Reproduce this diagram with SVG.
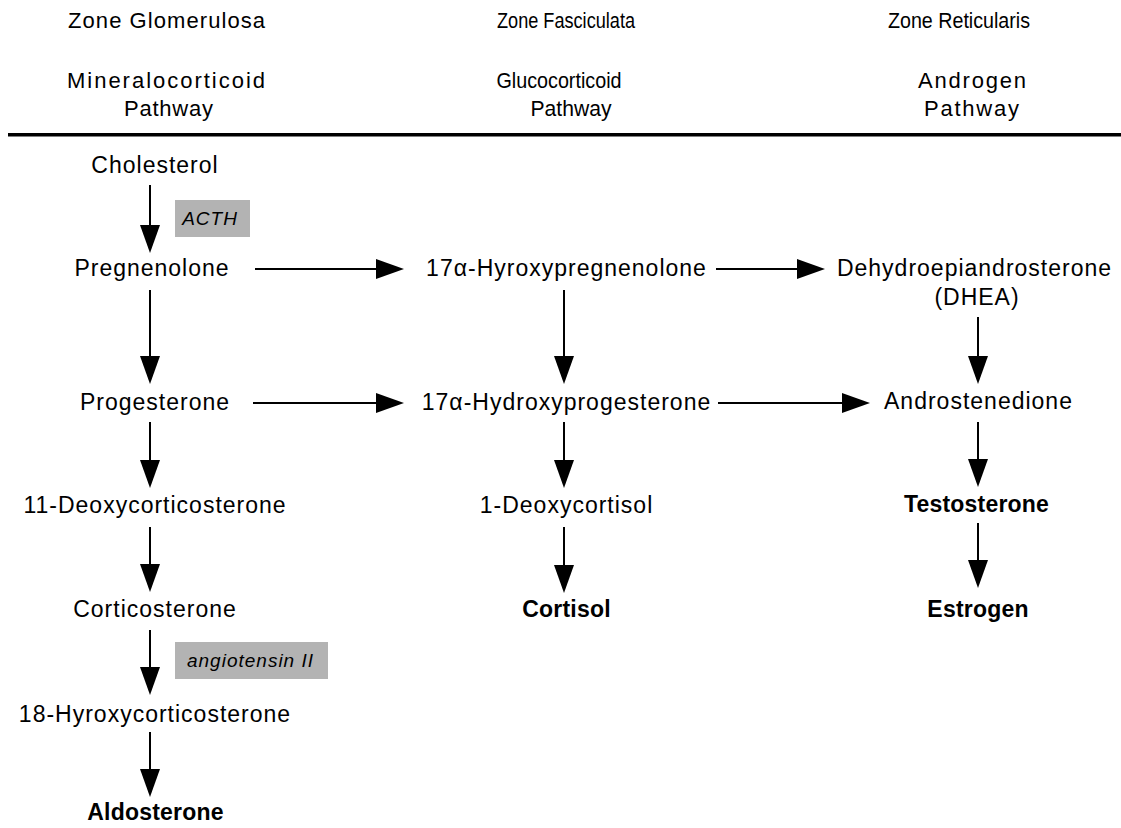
<svg xmlns="http://www.w3.org/2000/svg" width="1121" height="828" viewBox="0 0 1121 828">
  <style>
    text { font-family: "Liberation Sans", Arial, Helvetica, sans-serif; fill: #000; }
    .hd { font-size: 22px; text-anchor: middle; }
    .hdc { font-size: 21.5px; text-anchor: middle; }
    .nd { font-size: 23px; text-anchor: middle; letter-spacing: 1px; }
    .fin { font-size: 23px; font-weight: bold; text-anchor: middle; letter-spacing: 0.2px; }
    .reg { font-size: 19px; font-style: italic; text-anchor: middle; letter-spacing: 1px; }
    .tag { fill: #b3b3b3; }
    .conn line { stroke: #000; stroke-width: 2; marker-end: url(#head); }
  </style>
  <defs>
    <marker id="head" markerUnits="userSpaceOnUse" markerWidth="30" markerHeight="22" viewBox="0 -11 30 22" refX="0" refY="0" orient="auto" overflow="visible">
      <path d="M0,-10 L28,0 L0,10 Z" fill="#000"/>
    </marker>
  </defs>

  <rect width="1121" height="828" fill="#fff"/>

  <!-- column headings -->
  <g id="header-glomerulosa">
    <text class="hd" x="166.5" y="28" textLength="197">Zone Glomerulosa</text>
    <text class="hd" x="166" y="88" textLength="198">Mineralocorticoid</text>
    <text class="hd" x="168.5" y="116" textLength="89">Pathway</text>
  </g>
  <g id="header-fasciculata">
    <text class="hdc" x="566" y="28" textLength="138" lengthAdjust="spacingAndGlyphs">Zone Fasciculata</text>
    <text class="hdc" x="559" y="88" textLength="125" lengthAdjust="spacingAndGlyphs">Glucocorticoid</text>
    <text class="hdc" x="571" y="116" textLength="81" lengthAdjust="spacingAndGlyphs">Pathway</text>
  </g>
  <g id="header-reticularis">
    <text class="hdc" x="959" y="28" textLength="142" lengthAdjust="spacingAndGlyphs">Zone Reticularis</text>
    <text class="hd" x="972" y="88" textLength="108">Androgen</text>
    <text class="hd" x="971.5" y="116" textLength="95">Pathway</text>
  </g>
  <rect id="rule" x="8" y="133" width="1113" height="3.5" fill="#000"/>

  <!-- connectors -->
  <g id="connectors" class="conn">
    <line x1="150" y1="185" x2="150" y2="225"/>
    <line x1="150" y1="290" x2="150" y2="356"/>
    <line x1="150" y1="422" x2="150" y2="460"/>
    <line x1="150" y1="527" x2="150" y2="564"/>
    <line x1="150" y1="630" x2="150" y2="667"/>
    <line x1="150" y1="732" x2="150" y2="769"/>

    <line x1="564" y1="290" x2="564" y2="356"/>
    <line x1="564" y1="422" x2="564" y2="460"/>
    <line x1="564" y1="527" x2="564" y2="565"/>

    <line x1="978" y1="317" x2="978" y2="356"/>
    <line x1="978" y1="422" x2="978" y2="459"/>
    <line x1="978" y1="523" x2="978" y2="560"/>

    <line x1="255" y1="269" x2="376" y2="269"/>
    <line x1="716" y1="269" x2="797" y2="269"/>
    <line x1="253" y1="403" x2="376" y2="403"/>
    <line x1="718" y1="403" x2="842" y2="403"/>
  </g>

  <!-- regulator tags -->
  <g id="tag-acth">
    <rect class="tag" x="175" y="200" width="75" height="37"/>
    <text class="reg" x="210" y="225">ACTH</text>
  </g>
  <g id="tag-angiotensin">
    <rect class="tag" x="175" y="642" width="153" height="37"/>
    <text class="reg" x="250.5" y="667">angiotensin II</text>
  </g>

  <!-- mineralocorticoid column -->
  <g id="cholesterol"><text class="nd" x="155" y="173">Cholesterol</text></g>
  <g id="pregnenolone"><text class="nd" x="152" y="276">Pregnenolone</text></g>
  <g id="progesterone"><text class="nd" x="155" y="410">Progesterone</text></g>
  <g id="deoxycorticosterone"><text class="nd" x="155" y="513">11-Deoxycorticosterone</text></g>
  <g id="corticosterone"><text class="nd" x="155" y="617">Corticosterone</text></g>
  <g id="hydroxycorticosterone"><text class="nd" x="155" y="722">18-Hyroxycorticosterone</text></g>
  <g id="aldosterone"><text class="fin" x="155.5" y="820">Aldosterone</text></g>

  <!-- glucocorticoid column -->
  <g id="hydroxypregnenolone"><text class="nd" x="566.5" y="276">17α-Hyroxypregnenolone</text></g>
  <g id="hydroxyprogesterone"><text class="nd" x="566.5" y="410">17α-Hydroxyprogesterone</text></g>
  <g id="deoxycortisol"><text class="nd" x="566.5" y="513">1-Deoxycortisol</text></g>
  <g id="cortisol"><text class="fin" x="566.5" y="617">Cortisol</text></g>

  <!-- androgen column -->
  <g id="dhea">
    <text class="nd" x="974.5" y="276">Dehydroepiandrosterone</text>
    <text class="nd" x="977" y="305">(DHEA)</text>
  </g>
  <g id="androstenedione"><text class="nd" x="978.5" y="409">Androstenedione</text></g>
  <g id="testosterone"><text class="fin" x="976.5" y="512">Testosterone</text></g>
  <g id="estrogen"><text class="fin" x="978" y="617">Estrogen</text></g>
</svg>
